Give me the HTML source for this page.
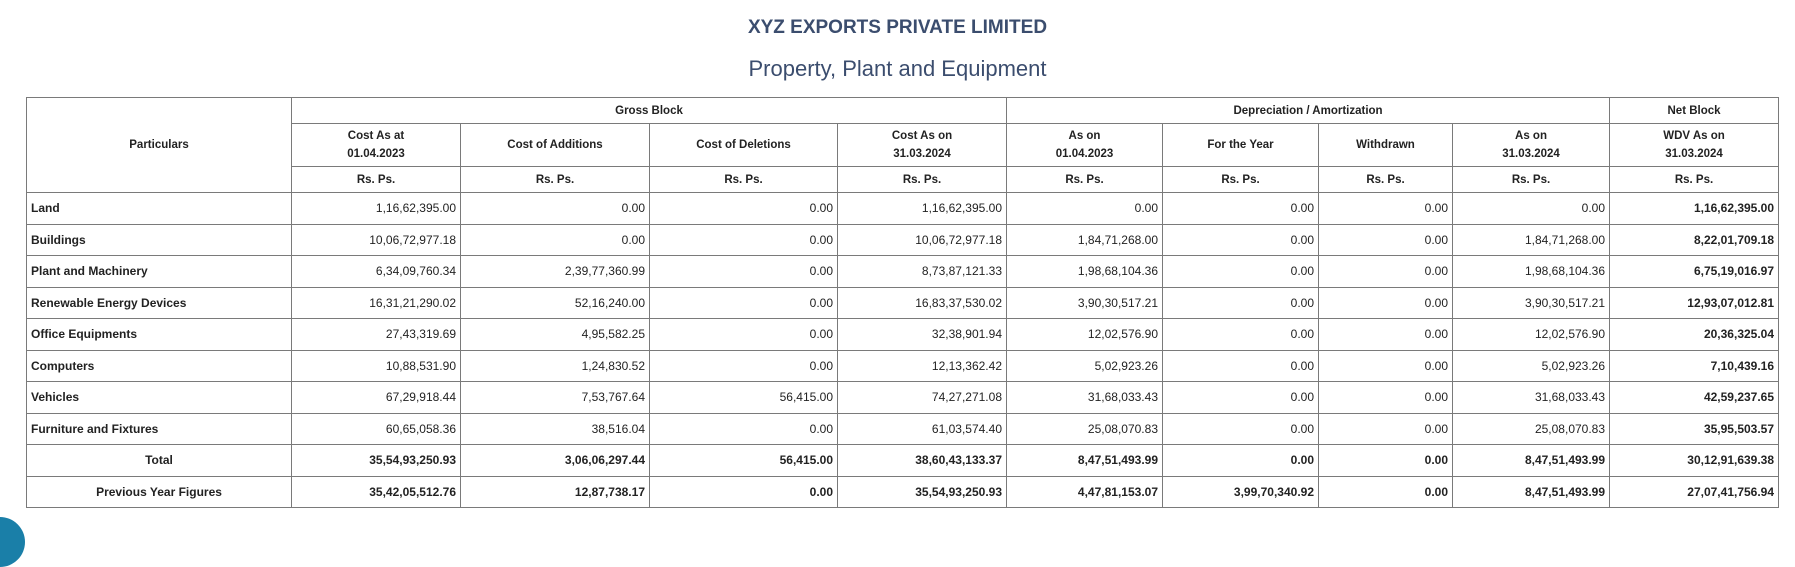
<!DOCTYPE html>
<html><head><meta charset="utf-8"><style>
body{margin:0;width:1795px;height:522px;background:#fff;position:relative;overflow:hidden;font-family:"Liberation Sans",sans-serif;}
.t1{position:absolute;top:17px;left:0;width:1795px;text-align:center;font-weight:bold;font-size:19px;color:#3b4d6e;}
.t2{position:absolute;top:56px;left:0;width:1795px;text-align:center;font-size:22px;color:#3b4d6e;}
table{position:absolute;left:26px;top:97px;border-collapse:collapse;table-layout:fixed;width:1753px;font-size:12px;color:#222;}
td,th{border:1px solid #7a7a7a;padding:0 4px;overflow:hidden;white-space:nowrap;}
th{font-weight:bold;text-align:center;line-height:18px;font-size:11.5px;}
td{text-align:right;height:30.5px;}
td:first-child{text-align:left;font-weight:bold;}
td:last-child{font-weight:bold;}
tr.b td{font-weight:bold;}
tr.b td:first-child{text-align:center;}
.circ{position:absolute;left:-25px;top:517px;width:50px;height:50px;border-radius:50%;background:#1a7fa8;}
</style></head><body>
<div class="t1">XYZ EXPORTS PRIVATE LIMITED</div>
<div class="t2">Property, Plant and Equipment</div>
<table>
<colgroup><col style="width:265px"><col style="width:169px"><col style="width:189px"><col style="width:188px"><col style="width:169px"><col style="width:156px"><col style="width:156px"><col style="width:134px"><col style="width:157px"><col style="width:169px"></colgroup>
<tr style="height:26px"><th rowspan="3">Particulars</th><th colspan="4">Gross Block</th><th colspan="4">Depreciation / Amortization</th><th>Net Block</th></tr>
<tr style="height:43px"><th>Cost As at<br>01.04.2023</th><th>Cost of Additions</th><th>Cost of Deletions</th><th>Cost As on<br>31.03.2024</th><th>As on<br>01.04.2023</th><th>For the Year</th><th>Withdrawn</th><th>As on<br>31.03.2024</th><th>WDV As on<br>31.03.2024</th></tr>
<tr style="height:26px"><th>Rs. Ps.</th><th>Rs. Ps.</th><th>Rs. Ps.</th><th>Rs. Ps.</th><th>Rs. Ps.</th><th>Rs. Ps.</th><th>Rs. Ps.</th><th>Rs. Ps.</th><th>Rs. Ps.</th></tr>
<tr><td>Land</td><td>1,16,62,395.00</td><td>0.00</td><td>0.00</td><td>1,16,62,395.00</td><td>0.00</td><td>0.00</td><td>0.00</td><td>0.00</td><td>1,16,62,395.00</td></tr>
<tr><td>Buildings</td><td>10,06,72,977.18</td><td>0.00</td><td>0.00</td><td>10,06,72,977.18</td><td>1,84,71,268.00</td><td>0.00</td><td>0.00</td><td>1,84,71,268.00</td><td>8,22,01,709.18</td></tr>
<tr><td>Plant and Machinery</td><td>6,34,09,760.34</td><td>2,39,77,360.99</td><td>0.00</td><td>8,73,87,121.33</td><td>1,98,68,104.36</td><td>0.00</td><td>0.00</td><td>1,98,68,104.36</td><td>6,75,19,016.97</td></tr>
<tr><td>Renewable Energy Devices</td><td>16,31,21,290.02</td><td>52,16,240.00</td><td>0.00</td><td>16,83,37,530.02</td><td>3,90,30,517.21</td><td>0.00</td><td>0.00</td><td>3,90,30,517.21</td><td>12,93,07,012.81</td></tr>
<tr><td>Office Equipments</td><td>27,43,319.69</td><td>4,95,582.25</td><td>0.00</td><td>32,38,901.94</td><td>12,02,576.90</td><td>0.00</td><td>0.00</td><td>12,02,576.90</td><td>20,36,325.04</td></tr>
<tr><td>Computers</td><td>10,88,531.90</td><td>1,24,830.52</td><td>0.00</td><td>12,13,362.42</td><td>5,02,923.26</td><td>0.00</td><td>0.00</td><td>5,02,923.26</td><td>7,10,439.16</td></tr>
<tr><td>Vehicles</td><td>67,29,918.44</td><td>7,53,767.64</td><td>56,415.00</td><td>74,27,271.08</td><td>31,68,033.43</td><td>0.00</td><td>0.00</td><td>31,68,033.43</td><td>42,59,237.65</td></tr>
<tr><td>Furniture and Fixtures</td><td>60,65,058.36</td><td>38,516.04</td><td>0.00</td><td>61,03,574.40</td><td>25,08,070.83</td><td>0.00</td><td>0.00</td><td>25,08,070.83</td><td>35,95,503.57</td></tr>
<tr class="b"><td>Total</td><td>35,54,93,250.93</td><td>3,06,06,297.44</td><td>56,415.00</td><td>38,60,43,133.37</td><td>8,47,51,493.99</td><td>0.00</td><td>0.00</td><td>8,47,51,493.99</td><td>30,12,91,639.38</td></tr>
<tr class="b"><td>Previous Year Figures</td><td>35,42,05,512.76</td><td>12,87,738.17</td><td>0.00</td><td>35,54,93,250.93</td><td>4,47,81,153.07</td><td>3,99,70,340.92</td><td>0.00</td><td>8,47,51,493.99</td><td>27,07,41,756.94</td></tr>
</table>
<div class="circ"></div>
</body></html>
